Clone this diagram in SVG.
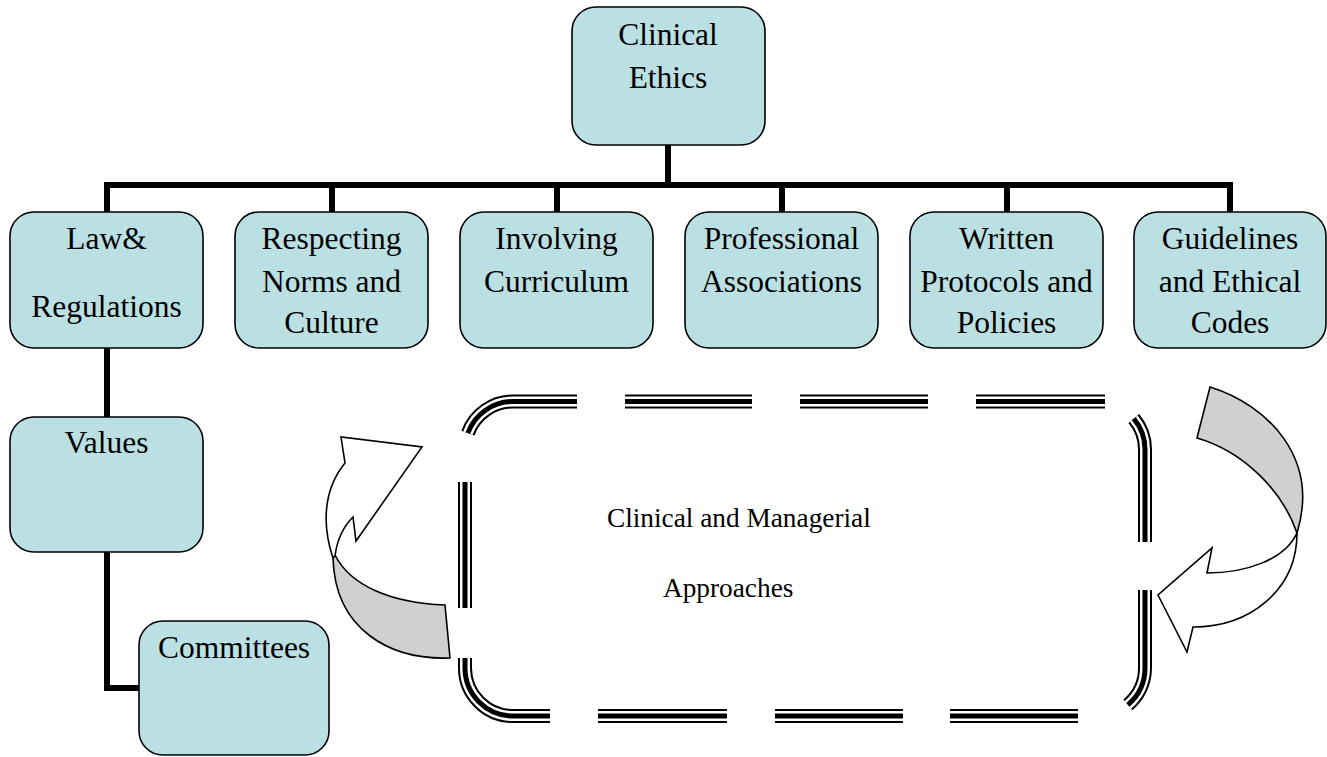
<svg xmlns="http://www.w3.org/2000/svg" width="1327" height="757" viewBox="0 0 1327 757">
<style>
.box{fill:#BBE0E3;stroke:#000;stroke-width:1.6}
.t{font-family:"Liberation Serif","Times New Roman",serif;font-size:31.5px;fill:#000;text-anchor:middle}
.c{font-family:"Liberation Serif","Times New Roman",serif;font-size:27.3px;fill:#000}
.conn{fill:none;stroke:#000;stroke-width:6;stroke-linejoin:miter;stroke-linecap:butt}
.d1{fill:none;stroke:#000;stroke-width:14}
.d2{fill:none;stroke:#fff;stroke-width:10}
.d3{fill:none;stroke:#000;stroke-width:5}
.arw{stroke:#000;stroke-width:1.6;stroke-linejoin:miter}
</style>
<defs>
<path id="dashes" d="M467.9,433.1 A48,48 0 0 1 513,401.5 H577 M625,401.5 H752 M800,401.5 H928 M976,401.5 H1105 M1133.8,418.6 A48,48 0 0 1 1145,449.5 V542 M1145,590 V668 A48,48 0 0 1 1127.9,704.8 M1078,716 H950 M903,716 H775 M727,716 H598 M550,716 H513 A48,48 0 0 1 465,668 V658 M465,608 V482"/>
</defs>
<g id="connectors">
<path class="conn" d="M668,145 V185 M107,212 V185 H1230 V212 M332,185 V212 M557,185 V212 M782,185 V212 M1007,185 V212 M107,348 V417 M107,552 V688 H139"/>
</g>
<g id="n-clinical-ethics">
<rect class="box" x="572" y="7" width="193" height="138" rx="24"/>
<text class="t" x="668" y="45">Clinical</text>
<text class="t" x="668" y="88">Ethics</text>
</g>
<g id="n-law">
<rect class="box" x="10" y="212" width="193" height="136" rx="24"/>
<text class="t" x="106.5" y="249">Law&amp;</text>
<text class="t" x="106.5" y="317">Regulations</text>
</g>
<g id="n-norms">
<rect class="box" x="235" y="212" width="193" height="136" rx="24"/>
<text class="t" x="331.5" y="249">Respecting</text>
<text class="t" x="331.5" y="292">Norms and</text>
<text class="t" x="331.5" y="333">Culture</text>
</g>
<g id="n-curriculum">
<rect class="box" x="460" y="212" width="193" height="136" rx="24"/>
<text class="t" x="556.5" y="249">Involving</text>
<text class="t" x="556.5" y="292">Curriculum</text>
</g>
<g id="n-professional">
<rect class="box" x="685" y="212" width="193" height="136" rx="24"/>
<text class="t" x="781.5" y="249">Professional</text>
<text class="t" x="781.5" y="292">Associations</text>
</g>
<g id="n-written">
<rect class="box" x="910" y="212" width="193" height="136" rx="24"/>
<text class="t" x="1006.5" y="249">Written</text>
<text class="t" x="1006.5" y="292">Protocols and</text>
<text class="t" x="1006.5" y="333">Policies</text>
</g>
<g id="n-guidelines">
<rect class="box" x="1134" y="212" width="192" height="136" rx="24"/>
<text class="t" x="1230" y="249">Guidelines</text>
<text class="t" x="1230" y="292">and Ethical</text>
<text class="t" x="1230" y="333">Codes</text>
</g>
<g id="n-values">
<rect class="box" x="10" y="417" width="193" height="135" rx="24"/>
<text class="t" x="106.5" y="453">Values</text>
</g>
<g id="n-committees">
<rect class="box" x="139" y="621" width="190" height="134" rx="24"/>
<text class="t" x="234" y="658">Committees</text>
</g>
<g id="n-approaches">
<use href="#dashes" class="d1"/>
<use href="#dashes" class="d2"/>
<use href="#dashes" class="d3"/>
<text class="c" x="607" y="527">Clinical and Managerial</text>
<text class="c" x="663" y="597">Approaches</text>
</g>
<g id="arrow-left">
<path class="arw" fill="#D0D0D0" d="M335,555 C350,585 390,603 445,605 L450,658 C390,660 335,630 333,558 Z"/>
<path class="arw" fill="#fff" d="M333,558 C322,525 323,490 345,463 L341,437 L422,447 L356,541 L353,517 C343,527 337,540 335,556 Z"/>
</g>
<g id="arrow-right">
<path class="arw" fill="#D0D0D0" d="M1210,387 C1268,405 1320,458 1297,533 C1283,492 1245,452 1197,438 Z"/>
<path class="arw" fill="#fff" d="M1297,533 C1297,590 1250,627 1193,627 L1187,652 L1158,595 L1212,548 L1207,573 C1245,573 1285,560 1297,533 Z"/>
</g>
</svg>
